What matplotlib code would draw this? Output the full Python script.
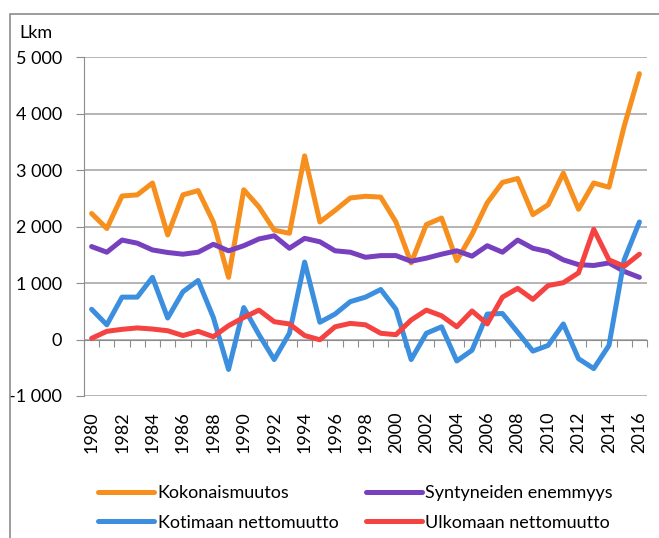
import matplotlib.pyplot as plt
from matplotlib.patches import Rectangle
from matplotlib.ticker import FuncFormatter, MultipleLocator

plt.rcParams['font.family'] = ['Lato', 'DejaVu Sans']

years = list(range(1980, 2017))

kokonaismuutos = [2230, 1965, 2540, 2560, 2770, 1850, 2560, 2635, 2080, 1100,
                  2650, 2345, 1935, 1880, 3250, 2080, 2285, 2505, 2535, 2520,
                  2080, 1355, 2035, 2150, 1395, 1860, 2420, 2780, 2850, 2210,
                  2385, 2945, 2305, 2770, 2695, 3775, 4705]
syntyneiden_enemmyys = [1645, 1545, 1760, 1705, 1585, 1540, 1510, 1545, 1685, 1570,
                        1660, 1780, 1835, 1615, 1790, 1730, 1570, 1545, 1455, 1485,
                        1485, 1385, 1440, 1510, 1570, 1475, 1660, 1545, 1760, 1615,
                        1555, 1410, 1325, 1310, 1355, 1205, 1100]
kotimaan_nettomuutto = [535, 260, 750, 750, 1100, 380, 845, 1045, 390, -530,
                        565, 85, -355, 110, 1370, 305, 450, 670, 750, 885,
                        535, -355, 110, 225, -380, -190, 450, 460, 130, -205,
                        -105, 275, -340, -515, -105, 1410, 2080]
ulkomaan_nettomuutto = [20, 145, 180, 205, 185, 155, 70, 145, 50, 245,
                        390, 520, 315, 275, 70, -5, 225, 285, 260, 110,
                        85, 345, 520, 420, 225, 505, 275, 750, 905, 710,
                        955, 1005, 1180, 1950, 1410, 1295, 1510]

series = [
    ('Kokonaismuutos', kokonaismuutos, '#F78F1E'),
    ('Syntyneiden enemmyys', syntyneiden_enemmyys, '#7740BE'),
    ('Kotimaan nettomuutto', kotimaan_nettomuutto, '#3B8FDE'),
    ('Ulkomaan nettomuutto', ulkomaan_nettomuutto, '#F44341'),
]
# legend order is row-wise in the picture
legend_order = [0, 2, 1, 3]

W, H = 659, 538
fig = plt.figure(figsize=(W / 100, H / 100), dpi=100)
ax = fig.add_axes([84 / W, 1 - 396 / H, (647 - 84) / W, (396 - 57) / H])

# outer frame (cut off at right and bottom)
fig.patches.append(Rectangle((10 / W, -0.1), 1.2, 1.1 - 14 / H,
                             transform=fig.transFigure, fill=False,
                             edgecolor='#8C8C8C', linewidth=1.2))

lines = []
for name, vals, col in series:
    ln, = ax.plot(years, vals, color=col, linewidth=3.6, label=name,
                  solid_capstyle='round', solid_joinstyle='round', zorder=3)
    lines.append(ln)

ax.set_xlim(1979.5, 2016.5)
ax.set_ylim(-1000, 5000)
ax.yaxis.set_major_locator(MultipleLocator(1000))
ax.yaxis.set_major_formatter(FuncFormatter(
    lambda v, p: ('-' if v < 0 else '') + format(int(abs(v)), ',').replace(',', ' ')))
ax.grid(axis='y', color='#A0A0A0', linewidth=1.1)
ax.set_axisbelow(True)

for s in ['top', 'right']:
    ax.spines[s].set_visible(False)
ax.spines['left'].set_color('#8C8C8C')
ax.spines['bottom'].set_color('#8C8C8C')
ax.spines['bottom'].set_position(('data', 0))
ax.tick_params(axis='y', length=6, color='#8C8C8C', labelsize=13, pad=10)

# category ticks on the zero line, between years
ax.set_xticks([y + 0.5 for y in range(1979, 2017)])
ax.tick_params(axis='x', length=5, color='#8C8C8C', labelbottom=False)

# year labels at the bottom
sec = ax.secondary_xaxis(0.0)
sec.set_xticks(years[::2])
sec.set_xticklabels([str(y) for y in years[::2]], rotation=90)
sec.tick_params(length=0, labelsize=13, pad=11)
sec.spines['bottom'].set_visible(False)

fig.text(19 / W, 1 - 33 / H, 'Lkm', fontsize=13, va='center', ha='left')

fig.legend([lines[i] for i in legend_order],
           [series[i][0] for i in legend_order],
           ncol=2, loc='center left', bbox_to_anchor=(82 / W, 1 - 508 / H),
           frameon=False, fontsize=13, handlelength=3.1, handletextpad=0.2,
           columnspacing=1.5, labelspacing=0.75)

fig.savefig('out.png', dpi=100)
